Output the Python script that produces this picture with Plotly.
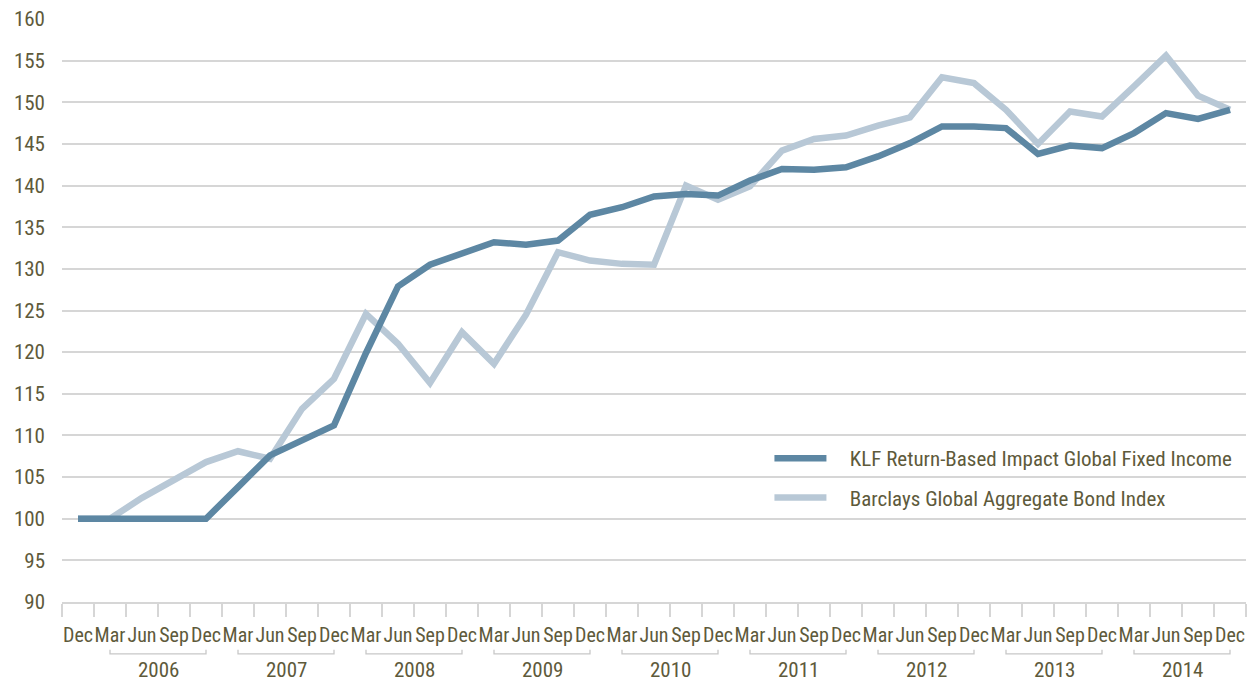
import plotly.graph_objects as go

quarters = ["Dec", "Mar", "Jun", "Sep"] * 9 + ["Dec"]
years = ["2006", "2007", "2008", "2009", "2010", "2011", "2012", "2013", "2014"]

klf = [100.0, 100.0, 100.0, 100.0, 100.0, 103.8, 107.6, 109.4, 111.2,
       119.9, 127.9, 130.5, 131.8, 133.2, 132.9, 133.4, 136.5, 137.4,
       138.7, 139.0, 138.8, 140.6, 142.0, 141.9, 142.2, 143.5, 145.1,
       147.1, 147.1, 146.9, 143.8, 144.8, 144.5, 146.3, 148.7, 148.0, 149.1]
barclays = [100.0, 100.0, 102.5, 104.6, 106.8, 108.1, 107.2, 113.2, 116.8,
            124.6, 121.0, 116.3, 122.4, 118.6, 124.5, 132.0, 131.0, 130.6,
            130.5, 140.0, 138.3, 139.9, 144.2, 145.6, 146.0, 147.2, 148.2,
            153.0, 152.3, 149.1, 145.0, 148.9, 148.3, 151.9, 155.6, 150.8, 149.1]

FONT = "Roboto Condensed, Liberation Sans Narrow, sans-serif"
TXT = "#5e5a3b"
GRID = "#d6d6d6"

xs = list(range(len(quarters)))

fig = go.Figure()
fig.add_trace(go.Scatter(x=xs, y=barclays, mode="lines", name="\u2003Barclays Global Aggregate Bond Index",
                         legendgroup="b", legendrank=2, line=dict(color="#b8c8d6", width=6.5)))
fig.add_trace(go.Scatter(x=xs, y=klf, mode="lines", name="\u2003KLF Return-Based Impact Global Fixed Income",
                         legendgroup="k", legendrank=1, line=dict(color="#5d87a3", width=6.5)))

shapes = []
annotations = []
for k, yr in enumerate(years):
    a = 1 + 4 * k
    b = a + 3
    shapes.append(dict(type="path", xref="x", yref="paper",
                       path=f"M {a},-0.082 L {a},-0.089 L {b},-0.089 L {b},-0.082",
                       line=dict(color="#c8c8c8", width=1.3)))
    annotations.append(dict(x=(a + b) / 2, y=-0.1166, xref="x", yref="paper", text=yr,
                            showarrow=False, font=dict(family=FONT, size=21, color=TXT),
                            yanchor="middle"))

fig.update_layout(
    width=1248, height=682,
    margin=dict(l=62, r=2, t=19, b=80),
    paper_bgcolor="white", plot_bgcolor="white",
    font=dict(family=FONT, color=TXT),
    showlegend=True,
    legend=dict(x=0.5975, y=0.2813, xanchor="left", yanchor="top", bgcolor="rgba(0,0,0,0)",
                font=dict(family=FONT, size=21, color=TXT), traceorder="grouped",
                itemwidth=52, tracegroupgap=9),
    shapes=shapes,
    annotations=annotations,
    xaxis=dict(range=[-0.5, len(quarters) - 0.5], tickmode="array", tickvals=xs, ticktext=quarters,
               ticks="", showgrid=False, zeroline=False, showline=True, linecolor=GRID, linewidth=2,
               automargin=False, tickangle=0,
               tickfont=dict(family=FONT, size=20, color=TXT), ticklabelstandoff=14,
               minor=dict(tick0=-0.5, dtick=1, ticks="outside", ticklen=13, tickcolor=GRID,
                          tickwidth=1.5, showgrid=False)),
    yaxis=dict(range=[90, 160], dtick=5, showgrid=True, gridcolor=GRID, gridwidth=2,
               zeroline=False, showline=False, ticks="", automargin=False,
               tickfont=dict(family=FONT, size=21, color=TXT), ticklabelstandoff=16),
)

fig.write_html("out.html", config={"displayModeBar": False},
               post_script="document.body.style.margin='0';")
